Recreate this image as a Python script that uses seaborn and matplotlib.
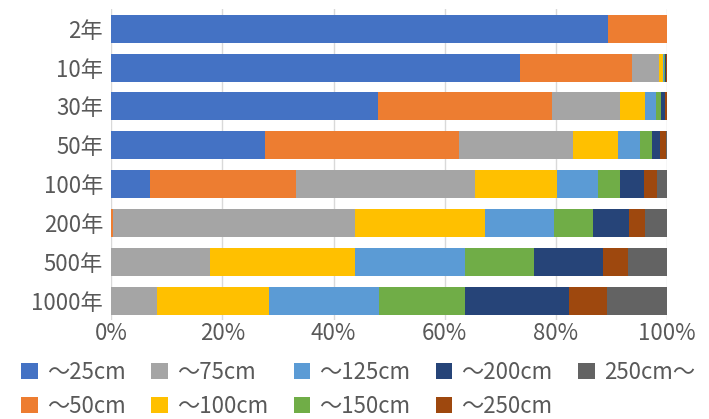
import seaborn as sns
import matplotlib.pyplot as plt
import pandas as pd
import numpy as np
from matplotlib.patches import Patch

periods = ["2年", "10年", "30年", "50年", "100年", "200年", "500年", "1000年"]
series = ["～25cm", "～50cm", "～75cm", "～100cm", "～125cm",
          "～150cm", "～200cm", "～250cm", "250cm～"]
colors = ["#4472C4", "#ED7D31", "#A5A5A5", "#FFC000", "#5B9BD5",
          "#70AD47", "#264478", "#9E480E", "#636363"]

# share (%) of each depth class, one list per period
s_2 = [89.3, 10.6, 0.05, 0.0, 0.0, 0.0, 0.0, 0.0, 0.05]
s_10 = [73.6, 20.1, 4.8, 0.8, 0.2, 0.1, 0.2, 0.1, 0.1]
s_30 = [47.9, 31.4, 12.2, 4.6, 1.9, 0.9, 0.7, 0.3, 0.1]
s_50 = [27.6, 34.9, 20.6, 8.1, 3.9, 2.2, 1.5, 0.9, 0.3]
s_100 = [7.0, 26.3, 32.2, 14.6, 7.4, 4.0, 4.4, 2.2, 1.9]
s_200 = [0.0, 0.3, 43.5, 23.4, 12.4, 7.1, 6.4, 3.0, 3.9]
s_500 = [0.0, 0.0, 17.8, 26.1, 19.8, 12.4, 12.4, 4.4, 7.1]
s_1000 = [0.0, 0.0, 8.3, 20.1, 19.7, 15.6, 18.6, 6.8, 10.9]

rows = [s_2, s_10, s_30, s_50, s_100, s_200, s_500, s_1000]
df = pd.DataFrame(rows, index=periods, columns=series)
df = df.div(df.sum(axis=1), axis=0) * 100
cum = df.cumsum(axis=1)
cum["period"] = periods

plt.rcParams['font.family'] = ['Noto Sans CJK JP', 'DejaVu Sans']

fig = plt.figure(figsize=(7.09, 4.19), dpi=100)
ax = fig.add_axes([0.157, 0.236, 0.784, 0.742])

# draw cumulative totals from the outermost class inwards
for name, col in reversed(list(zip(series, colors))):
    sns.barplot(data=cum, x=name, y="period", orient="h", color=col,
                width=0.72, saturation=1, ax=ax, zorder=2)

ax.set_xlim(0, 100)
ax.set_xticks(np.arange(0, 101, 20))
ax.set_xticklabels([f"{v}%" for v in range(0, 101, 20)])
ax.set_xlabel("")
ax.set_ylabel("")
ax.grid(True, axis="x", color="#D9D9D9", linewidth=1, zorder=0)
ax.set_axisbelow(True)
for sp in ax.spines.values():
    sp.set_visible(False)
ax.tick_params(length=0, labelsize=16, colors="#595959", pad=1)
ax.tick_params(axis="y", pad=6)

handles = [Patch(facecolor=c, edgecolor="none") for c in colors]
fig.legend(handles, series, loc="lower center", bbox_to_anchor=(0.505, -0.034),
           ncol=5, frameon=False, fontsize=16, labelcolor="#595959",
           handlelength=0.75, handleheight=0.75, handletextpad=0.4,
           columnspacing=1.15, labelspacing=0.5, borderpad=0.2)

fig.savefig("out.png", dpi=100)
